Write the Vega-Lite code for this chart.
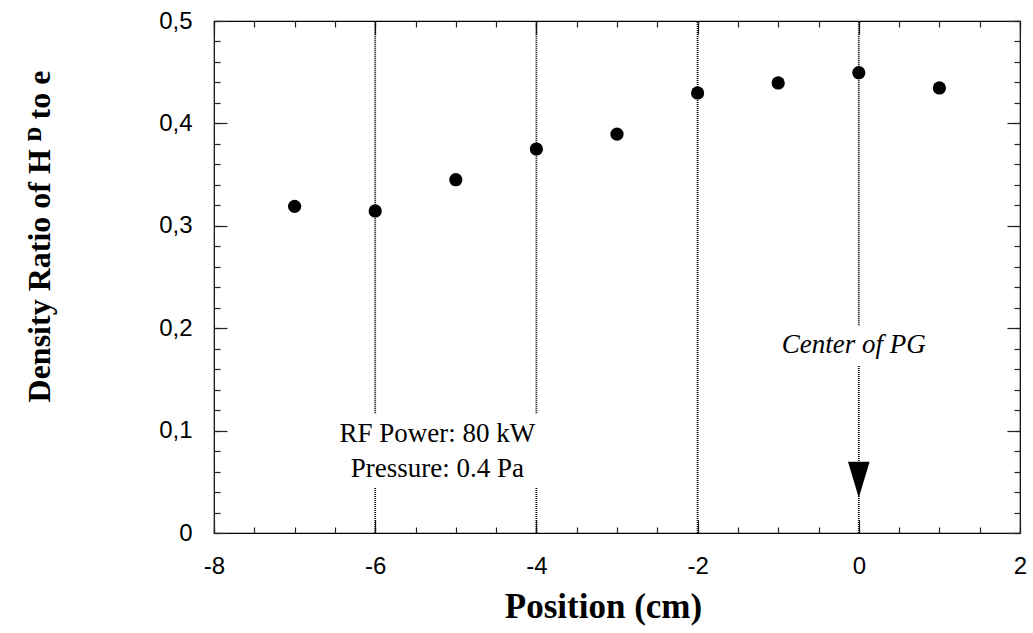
{
  "$schema": "https://vega.github.io/schema/vega-lite/v6.json",
  "width": 806,
  "height": 512,
  "autosize": "none",
  "padding": {"left": 214, "top": 21, "right": 13, "bottom": 100},
  "background": "white",
  "config": {
    "view": {"stroke": "#000", "strokeWidth": 1.2},
    "axis": {
      "grid": false,
      "domain": false,
      "tickColor": "#222",
      "tickWidth": 1.2,
      "labelFont": "Liberation Sans",
      "labelFontSize": 24,
      "labelColor": "#000",
      "titleColor": "#000",
      "labelFlush": false,
      "labelOverlap": false,
      "labelBound": false
    }
  },
  "datasets": {
    "points": [
      {"position": -7, "ratio": 0.319},
      {"position": -6, "ratio": 0.3145},
      {"position": -5, "ratio": 0.345},
      {"position": -4, "ratio": 0.375},
      {"position": -3, "ratio": 0.3895},
      {"position": -2, "ratio": 0.4297},
      {"position": -1, "ratio": 0.4395},
      {"position": 0, "ratio": 0.4495},
      {"position": 1, "ratio": 0.4346}
    ],
    "grid": [
      {"x": -6, "y1": 0, "y2": 0.044},
      {"x": -6, "y1": 0.117, "y2": 0.5},
      {"x": -4, "y1": 0, "y2": 0.044},
      {"x": -4, "y1": 0.117, "y2": 0.5},
      {"x": -2, "y1": 0, "y2": 0.5},
      {"x": 0, "y1": 0, "y2": 0.164},
      {"x": 0, "y1": 0.203, "y2": 0.5}
    ],
    "notes": [
      {"x": -5.23, "y": 0.0889, "label": "RF Power: 80 kW"},
      {"x": -5.23, "y": 0.0547, "label": "Pressure: 0.4 Pa"}
    ],
    "center": [
      {"x": 0, "y": 0.1758, "label": "Center of PG"}
    ],
    "arrow": [
      {"x": 0, "y": 0.052}
    ]
  },
  "resolve": {"axis": {"x": "independent", "y": "independent"}},
  "layer": [
    {
      "data": {"name": "grid"},
      "mark": {"type": "rule", "color": "#000", "strokeDash": [1, 1], "strokeWidth": 1.8},
      "encoding": {
        "x": {
          "field": "x", "type": "quantitative",
          "scale": {"domain": [-8, 2], "nice": false, "zero": false},
          "axis": {"orient": "bottom", "values": [-8, -7.5, -7, -6.5, -6, -5.5, -5, -4.5, -4, -3.5, -3, -2.5, -2, -1.5, -1, -0.5, 0, 0.5, 1, 1.5, 2], "tickSize": -6, "labels": false, "title": null}
        },
        "y": {
          "field": "y1", "type": "quantitative",
          "scale": {"domain": [0, 0.5], "nice": false, "zero": false},
          "axis": {"orient": "left", "values": [0, 0.02, 0.04, 0.06, 0.08, 0.1, 0.12, 0.14, 0.16, 0.18, 0.2, 0.22, 0.24, 0.26, 0.28, 0.3, 0.32, 0.34, 0.36, 0.38, 0.4, 0.42, 0.44, 0.46, 0.48, 0.5], "tickSize": -6, "labels": false, "title": null}
        },
        "y2": {"field": "y2"}
      }
    },
    {
      "data": {"name": "points"},
      "mark": {"type": "point", "filled": true, "color": "#000", "size": 175, "opacity": 1},
      "encoding": {
        "x": {
          "field": "position", "type": "quantitative",
          "scale": {"domain": [-8, 2], "nice": false, "zero": false},
          "axis": {
            "orient": "bottom", "values": [-8, -6, -4, -2, 0, 2], "tickSize": -13,
            "labelPadding": 34,
            "labelExpr": "(datum.value < 0 ? '-' : '') + abs(datum.value)",
            "title": "Position (cm)",
            "titleFont": "Liberation Serif", "titleFontSize": 35, "titleFontWeight": "bold",
            "titleX": 389, "titleY": 84, "titleBaseline": "alphabetic", "titleAlign": "center"
          }
        },
        "y": {
          "field": "ratio", "type": "quantitative",
          "scale": {"domain": [0, 0.5], "nice": false, "zero": false},
          "axis": {
            "orient": "left", "values": [0, 0.1, 0.2, 0.3, 0.4, 0.5], "tickSize": -13,
            "labelPadding": 35,
            "labelExpr": "datum.value == 0 ? '0' : replace(format(datum.value, '.1f'), '.', ',')",
            "title": "Density Ratio of H   ᴰ to e",
            "titleFont": "Liberation Serif", "titleFontSize": 32, "titleFontWeight": "bold",
            "titleX": -165, "titleY": 215, "titleBaseline": "alphabetic", "titleAlign": "center", "titleAngle": 270
          }
        }
      }
    },
    {
      "data": {"name": "notes"},
      "mark": {"type": "text", "font": "Liberation Serif", "fontSize": 27, "align": "center", "baseline": "alphabetic", "color": "#000"},
      "encoding": {
        "x": {
          "field": "x", "type": "quantitative",
          "scale": {"domain": [-8, 2], "nice": false, "zero": false},
          "axis": {"orient": "top", "values": [-8, -7.5, -7, -6.5, -6, -5.5, -5, -4.5, -4, -3.5, -3, -2.5, -2, -1.5, -1, -0.5, 0, 0.5, 1, 1.5, 2], "tickSize": -6, "labels": false, "title": null}
        },
        "y": {
          "field": "y", "type": "quantitative",
          "scale": {"domain": [0, 0.5], "nice": false, "zero": false},
          "axis": {"orient": "right", "values": [0, 0.02, 0.04, 0.06, 0.08, 0.1, 0.12, 0.14, 0.16, 0.18, 0.2, 0.22, 0.24, 0.26, 0.28, 0.3, 0.32, 0.34, 0.36, 0.38, 0.4, 0.42, 0.44, 0.46, 0.48, 0.5], "tickSize": -6, "labels": false, "title": null}
        },
        "text": {"field": "label"}
      }
    },
    {
      "data": {"name": "center"},
      "mark": {"type": "text", "font": "Liberation Serif", "fontSize": 27, "fontStyle": "italic", "align": "center", "baseline": "alphabetic", "color": "#000", "dx": -5},
      "encoding": {
        "x": {
          "field": "x", "type": "quantitative",
          "scale": {"domain": [-8, 2], "nice": false, "zero": false},
          "axis": {"orient": "top", "values": [-8, -6, -4, -2, 0, 2], "tickSize": -13, "labels": false, "title": null}
        },
        "y": {
          "field": "y", "type": "quantitative",
          "scale": {"domain": [0, 0.5], "nice": false, "zero": false},
          "axis": {"orient": "right", "values": [0, 0.1, 0.2, 0.3, 0.4, 0.5], "tickSize": -13, "labels": false, "title": null}
        },
        "text": {"field": "label"}
      }
    },
    {
      "data": {"name": "arrow"},
      "mark": {"type": "point", "shape": "M-0.6,-1L0.6,-1L0,1Z", "filled": true, "color": "#000", "size": 1296, "opacity": 1},
      "encoding": {
        "x": {
          "field": "x", "type": "quantitative",
          "scale": {"domain": [-8, 2], "nice": false, "zero": false},
          "axis": null
        },
        "y": {
          "field": "y", "type": "quantitative",
          "scale": {"domain": [0, 0.5], "nice": false, "zero": false},
          "axis": null
        }
      }
    }
  ]
}
